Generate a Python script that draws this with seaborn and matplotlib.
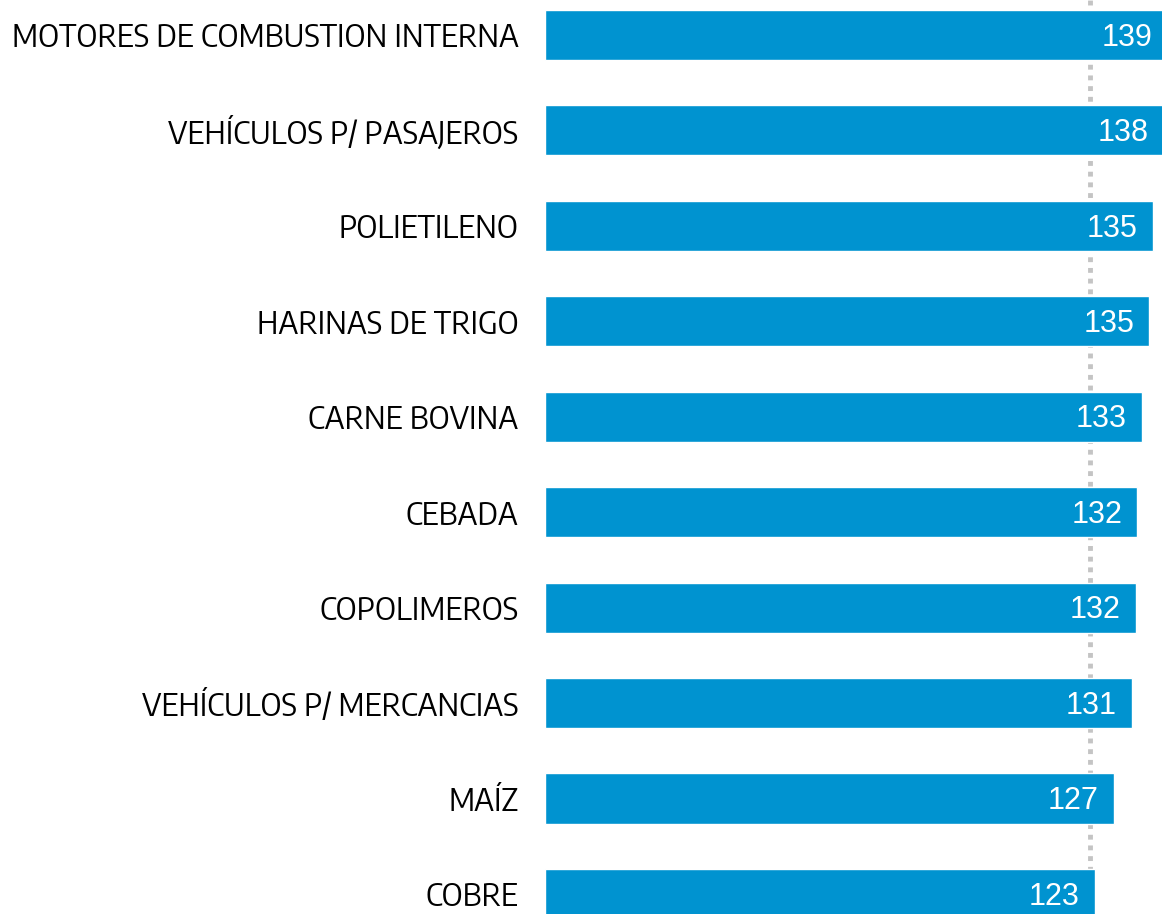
import matplotlib
matplotlib.use("Agg")
import matplotlib.pyplot as plt
from matplotlib import font_manager
import seaborn as sns
import pandas as pd

categories = ["MOTORES DE COMBUSTION INTERNA", "VEHÍCULOS P/ PASAJEROS", "POLIETILENO",
              "HARINAS DE TRIGO", "CARNE BOVINA", "CEBADA", "COPOLIMEROS",
              "VEHÍCULOS P/ MERCANCIAS", "MAÍZ", "COBRE"]
values = [139, 138, 135, 135, 133, 132, 132, 131, 127, 123]
bar_lengths = [139.3, 138.4, 136.0, 135.2, 133.6, 132.5, 132.2, 131.3, 127.3, 123.0]
reference_value = 122

sns.set_theme(style="white")
names = {f.name for f in font_manager.fontManager.ttflist}
label_fam = [f for f in ["Encode Sans Semi Condensed", "Liberation Sans Narrow"] if f in names] + ["DejaVu Sans"]
value_fam = [f for f in ["Liberation Sans", "Open Sans"] if f in names] + ["DejaVu Sans"]
plt.rcParams['font.family'] = label_fam

df = pd.DataFrame({"cat": categories, "val": bar_lengths})

fig = plt.figure(figsize=(11.62, 9.14), dpi=100)
ax = fig.add_axes([545/1162, 0, 617/1162, 1])
sns.barplot(data=df, y="cat", x="val", orient="h", color="#0093D0", saturation=1,
            width=0.525, ax=ax)
ax.set_xlim(0, 138)
ax.set_ylim(9.21, -0.365)
ax.axvline(reference_value, color="#c4c4c4", lw=3.5, ls=(0, (1, 1.2)), zorder=0)
for i, (v, L) in enumerate(zip(values, bar_lengths)):
    ax.annotate(str(v), xy=(L, i), xytext=(-11, -2), textcoords="offset points",
                ha="right", va="center", color="white", fontsize=22, zorder=5,
                family=value_fam, annotation_clip=False)
ax.set_xlabel("")
ax.set_ylabel("")
ax.set_xticks([])
ax.tick_params(axis="y", length=0, pad=19, labelsize=22.6, labelcolor="black")
for lbl in ax.get_yticklabels():
    lbl.set_fontweight(400)
for s in ax.spines.values():
    s.set_visible(False)
fig.savefig("out.png", dpi=100)
